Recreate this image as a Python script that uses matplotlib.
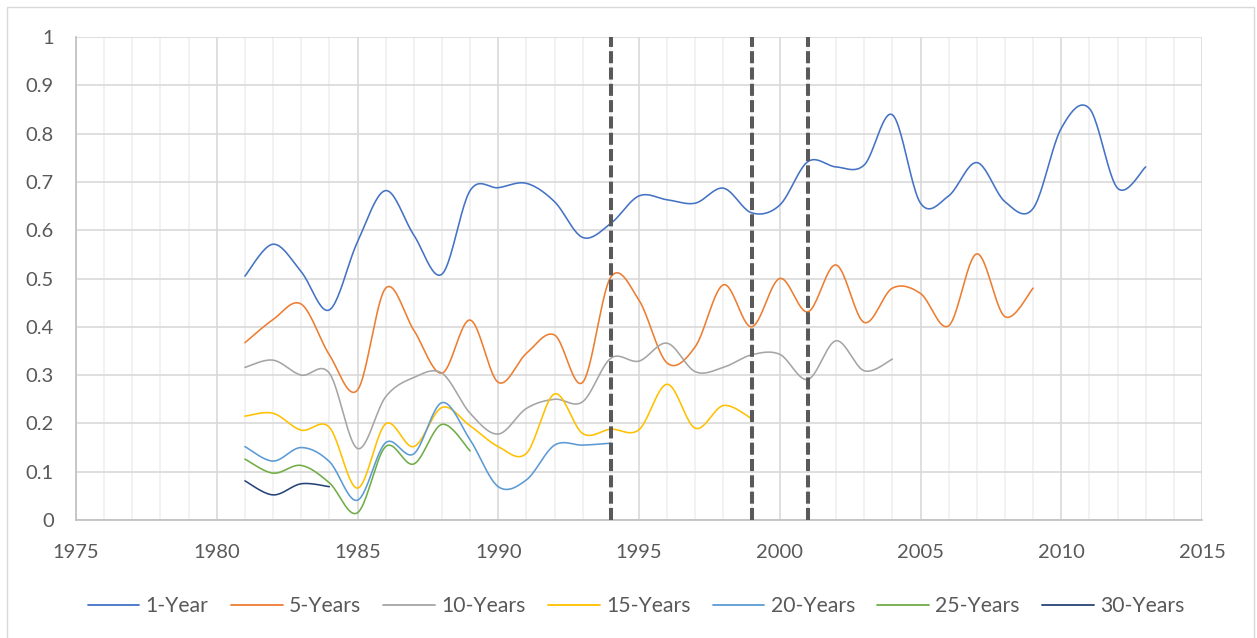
import numpy as np
import matplotlib
matplotlib.use("Agg")
import matplotlib.pyplot as plt
from matplotlib.patches import Rectangle

# ---------------- data ----------------
series_names = ["1-Year", "5-Years", "10-Years", "15-Years", "20-Years", "25-Years", "30-Years"]
series_colors = ["#4472C4", "#ED7D31", "#A5A5A5", "#FFC000", "#5B9BD5", "#70AD47", "#264478"]
start_year = 1981

one_year = [0.505, 0.571, 0.514, 0.435, 0.576, 0.682, 0.590, 0.509, 0.682, 0.688, 0.697,
            0.659, 0.585, 0.614, 0.671, 0.663, 0.656, 0.687, 0.636, 0.652, 0.742, 0.731,
            0.735, 0.839, 0.656, 0.671, 0.740, 0.659, 0.645, 0.811, 0.852, 0.687, 0.731]
five_years = [0.367, 0.415, 0.447, 0.342, 0.269, 0.480, 0.393, 0.304, 0.414, 0.285, 0.345,
              0.383, 0.285, 0.503, 0.455, 0.325, 0.359, 0.487, 0.400, 0.500, 0.431, 0.528,
              0.409, 0.480, 0.469, 0.402, 0.551, 0.421, 0.480]
ten_years = [0.316, 0.331, 0.300, 0.304, 0.148, 0.255, 0.295, 0.304, 0.221, 0.178, 0.231,
             0.250, 0.245, 0.335, 0.329, 0.366, 0.307, 0.316, 0.342, 0.343, 0.291, 0.371,
             0.309, 0.333]
fifteen_years = [0.215, 0.221, 0.186, 0.192, 0.066, 0.199, 0.152, 0.233, 0.195, 0.152, 0.138,
                 0.261, 0.179, 0.188, 0.187, 0.281, 0.190, 0.237, 0.210]
twenty_years = [0.152, 0.122, 0.150, 0.121, 0.041, 0.160, 0.137, 0.243, 0.166, 0.069, 0.083,
                0.155, 0.155, 0.159]
twentyfive_years = [0.126, 0.097, 0.113, 0.077, 0.015, 0.152, 0.116, 0.198, 0.143]
thirty_years = [0.081, 0.052, 0.075, 0.069]

event_years = [1994, 1999, 2001]

x_ticks = [1975, 1980, 1985, 1990, 1995, 2000, 2005, 2010, 2015]
y_ticks = [0, 0.1, 0.2, 0.3, 0.4, 0.5, 0.6, 0.7, 0.8, 0.9, 1]
y_tick_labels = ["0", "0.1", "0.2", "0.3", "0.4", "0.5", "0.6", "0.7", "0.8", "0.9", "1"]

all_series = [one_year, five_years, ten_years, fifteen_years, twenty_years,
              twentyfive_years, thirty_years]


def smooth(x, y, n=24):
    """Excel-like smoothed line (Catmull-Rom Bezier)."""
    pts = np.column_stack([np.asarray(x, float), np.asarray(y, float)])
    P = np.vstack([pts[0], pts, pts[-1]])
    t = np.linspace(0, 1, n)[:, None]
    out = []
    for i in range(1, len(P) - 2):
        p0, p1, p2, p3 = P[i - 1], P[i], P[i + 1], P[i + 2]
        c1 = p1 + (p2 - p0) / 6.0
        c2 = p2 - (p3 - p1) / 6.0
        seg = ((1 - t) ** 3) * p1 + 3 * ((1 - t) ** 2) * t * c1 + 3 * (1 - t) * t ** 2 * c2 + t ** 3 * p2
        out.append(seg if i == 1 else seg[1:])
    return np.vstack(out)


plt.rcParams['font.family'] = ['Lato', 'DejaVu Sans']
text_color = "#595959"

W, H = 1257, 638
fig = plt.figure(figsize=(W / 100, H / 100), dpi=100)
ax = fig.add_axes([76 / W, 1 - 520 / H, (1202 - 76) / W, (520 - 37) / H])

# outer chart border
fig.patches.append(Rectangle((7 / W, -0.05), (1254 - 7) / W, 1 - 7 / H + 0.05,
                             transform=fig.transFigure, fill=False,
                             edgecolor="#d9d9d9", linewidth=1.0, zorder=0))

# series
for name, color, vals in zip(series_names, series_colors, all_series):
    yrs = np.arange(start_year, start_year + len(vals))
    s = smooth(yrs, vals)
    ax.plot(s[:, 0], s[:, 1], color=color, linewidth=1.15, label=name,
            solid_capstyle='round', zorder=3)

# event lines
for ev in event_years:
    ax.axvline(ev, color="#595959", linewidth=2.9, dashes=(3, 1.05), zorder=4)

ax.set_xlim(1975, 2015)
ax.set_ylim(0, 1)
ax.set_xticks(x_ticks)
ax.set_xticklabels([str(v) for v in x_ticks])
ax.set_xticks(np.arange(1975, 2016, 1), minor=True)
ax.set_yticks(y_ticks)
ax.set_yticklabels(y_tick_labels)

ax.grid(which='major', color="#d9d9d9", linewidth=1.2, zorder=0)
ax.grid(which='minor', axis='x', color="#f0f0f0", linewidth=1.2, zorder=0)
ax.set_axisbelow(True)

ax.tick_params(which='both', length=0)
ax.tick_params(axis='x', labelsize=14.5, colors=text_color, pad=17)
ax.tick_params(axis='y', labelsize=14.5, colors=text_color, pad=16)

for side in ['top', 'right']:
    ax.spines[side].set_visible(False)
ax.spines['left'].set_color("#bfbfbf")
ax.spines['bottom'].set_color("#bfbfbf")
ax.spines['left'].set_linewidth(1.2)
ax.spines['bottom'].set_linewidth(1.2)

handles, labels = ax.get_legend_handles_labels()
leg = fig.legend(handles, labels, loc='center', bbox_to_anchor=(636 / W, 1 - 606 / H),
                 ncol=7, frameon=False, fontsize=15.2, handlelength=2.45,
                 handletextpad=0.3, columnspacing=1.05, labelcolor=text_color)
for line in leg.get_lines():
    line.set_linewidth(1.3)

fig.savefig("out.png", dpi=100)
